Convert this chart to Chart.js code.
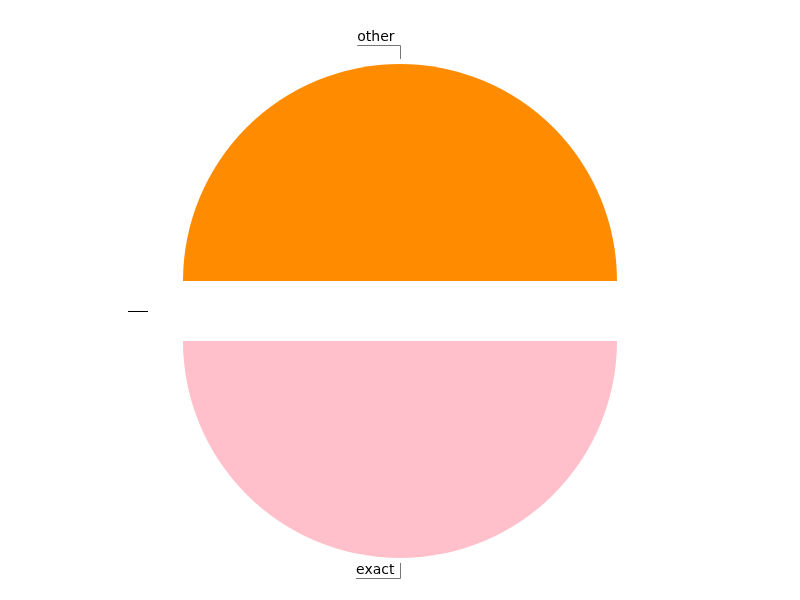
<!DOCTYPE html>
<html>
<head>
<meta charset="utf-8">
<script src="https://cdn.jsdelivr.net/npm/chart.js@4/dist/chart.umd.min.js"></script>
<style>
html,body{margin:0;padding:0;background:#fff;}
#wrap{width:800px;height:600px;}
</style>
</head>
<body>
<div id="wrap"><canvas id="c" width="800" height="600"></canvas></div>
<script>
const categories = ['other', 'exact', ''];
const values = [50, 50, 0];
const sliceColors = ['#ff8c00', '#ffc0cb', '#888888'];
const leaderColors = ['#777777', '#777777', '#000000'];
const EXPLODE = 30;

// shift each arc outward along its mid-angle (plain translation, like an exploded pie)
const explodePlugin = {
  id: 'explode',
  beforeDatasetsDraw(chart) {
    const meta = chart.getDatasetMeta(0);
    meta.data.forEach(arc => {
      if (arc._exploded) return;
      const orig = arc.draw;
      arc.draw = function (ctx, area) {
        const mid = (this.startAngle + this.endAngle) / 2;
        ctx.save();
        ctx.translate(Math.cos(mid) * EXPLODE, Math.sin(mid) * EXPLODE);
        orig.call(this, ctx, area);
        ctx.restore();
      };
      arc._exploded = true;
    });
  }
};

const labelPlugin = {
  id: 'pieLabels',
  afterDatasetsDraw(chart) {
    const ctx = chart.ctx;
    const meta = chart.getDatasetMeta(0);
    ctx.save();
    ctx.font = '14px "DejaVu Sans"';
    meta.data.forEach((arc, i) => {
      const p = arc.getProps(['x', 'y', 'startAngle', 'endAngle', 'outerRadius'], true);
      const mid = (p.startAngle + p.endAngle) / 2;
      const r0 = p.outerRadius + EXPLODE + 5;
      const cx = Math.cos(mid), cy = Math.sin(mid);
      const ax = p.x + cx * r0, ay = p.y + cy * r0;
      const text = categories[i];
      ctx.strokeStyle = leaderColors[i];
      ctx.lineWidth = 1;
      ctx.beginPath();
      if (text === '') {
        const bx = p.x + cx * (r0 + 20);
        ctx.moveTo(Math.round(ax), Math.round(ay) + 0.5);
        ctx.lineTo(Math.round(bx), Math.round(ay) + 0.5);
        ctx.stroke();
        return;
      }
      const w = ctx.measureText(text).width;
      const by = ay + cy * 14.5;
      const hx = Math.round(ax) + 0.5;
      const hy = Math.round(by) + 0.5;
      ctx.moveTo(hx, Math.round(ay));
      ctx.lineTo(hx, hy);
      ctx.lineTo(hx - w - 6, hy);
      ctx.stroke();
      ctx.fillStyle = '#000';
      ctx.textAlign = 'right';
      ctx.textBaseline = 'alphabetic';
      ctx.fillText(text, hx - 6, hy - 5);
    });
    ctx.restore();
  }
};

new Chart(document.getElementById('c'), {
  type: 'pie',
  data: {
    labels: categories,
    datasets: [{
      data: values,
      backgroundColor: sliceColors,
      borderWidth: 0,
      offset: 0
    }]
  },
  options: {
    responsive: false,
    animation: false,
    rotation: 270,
    radius: 217,
    layout: { padding: { top: 22, bottom: 0 } },
    plugins: { legend: { display: false }, tooltip: { enabled: false } }
  },
  plugins: [explodePlugin, labelPlugin]
});
</script>
</body>
</html>
